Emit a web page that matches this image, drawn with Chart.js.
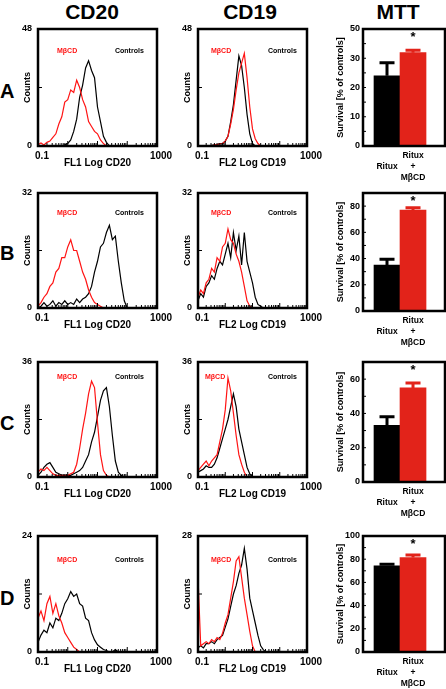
<!DOCTYPE html>
<html>
<head>
<meta charset="utf-8">
<script src="https://cdn.jsdelivr.net/npm/chart.js@4.4.0/dist/chart.umd.min.js"></script>
<style>
  body { margin: 0; background: #fff; width: 446px; height: 689px; position: relative; overflow: hidden;
         font-family: "Liberation Sans", Arial, Helvetica, sans-serif; }
  .lbl { position: absolute; font-weight: bold; color: #000; white-space: nowrap; text-align: center; }
</style>
</head>
<body>
<div class="lbl" style="left:52px;top:0;width:80px;height:24px;line-height:24px;font-size:21px">CD20</div>
<div class="lbl" style="left:210px;top:0;width:80px;height:24px;line-height:24px;font-size:21px">CD19</div>
<div class="lbl" style="left:358px;top:0;width:80px;height:24px;line-height:24px;font-size:21px">MTT</div>
<script>
// flow cytometry channels: 0..40 spans the log axis 0.1 .. 1000 (10 per decade)
const channels = [0,1,2,3,4,5,6,7,8,9,10,11,12,13,14,15,16,17,18,19,20,
                  21,22,23,24,25,26,27,28,29,30,31,32,33,34,35,36,37,38,39,40];
const xTickLabels = ['0.1', '1000'];
const rowNames = ['A', 'B', 'C', 'D'];
const seriesNames = ['MβCD', 'Controls'];
const axisTitles = ['FL1 Log CD20', 'FL2 Log CD19'];

const cd20Max = [48, 32, 36, 24];
const cd19Max = [48, 32, 36, 28];

// CD20 histograms (counts per channel)
const cd20A_mbcd     = [0.5,1.2,0.4,1.5,2,3.5,5,9,12,18,19,23,22,27,24,19,16,10,8,6,5,2.5,1,0];
const cd20A_controls = [0,0,0,0,0,0,0,0,0,0.5,1,2.5,6,11,20,25,32,35,31,28,16,10,4,1.5,0];
const cd20B_mbcd     = [0.5,1.5,3,4,6,7,10,11,14,14,17,19,16,16,13,10,8,5,3,1.5,1,0.5,0];
const cd20B_controls = [0,0.5,1.5,0.5,1,2,0.5,1.5,1,2,1,1.5,1,2.5,1.5,2.5,3,4,6,10,13,17,18,21,23,19,20,13,7,2,0];
const cd20C_mbcd     = [1.5,2.5,2,3,2,1,0.5,0.5,0.5,0.5,0.5,1,1.5,4,9,15,20,26,30,28,17,7,2,0.5,0];
const cd20C_controls = [0.5,1.5,3,4,4.5,3,1.5,1,0.5,0.5,0.5,0.5,1,1.5,2,3,5,7,11,14,19,24,27,28,22,13,5,1.5,0.5,0];
const cd20D_mbcd     = [7,8.5,6.5,10,11.5,8,10,7.5,6,4,3,2,1,0.5,0];
const cd20D_controls = [2,3.5,4.5,4,6,5,7,6.5,8,10,11,12.5,11.5,12,10,9.5,7,6.5,4,2.5,1.5,1,0.5,0.3,0,0,0.5,0];

// CD19 histograms
const cd19A_mbcd     = [0,0,0,0,0,0,0.5,0.5,1,1,2,4,9,15,23,30,34,38,28,16,7,3,1,0];
const cd19A_controls = [0,0,0,0,0,0.3,0.5,0.5,1,1,2,4,10,17,27,37,33,24,13,5,1,0];
const cd19B_mbcd     = [3,5,4,7,8,11,10,14,13,17,18,22,19,18,15,13,10,6,2,0.5,0];
const cd19B_controls = [2,4,3,6,7,9,8,11,13,12,15,18,14,21,16,20,12,21,13,10,7,3,1,0.5,0];
const cd19C_mbcd     = [2,3,4,5,3.5,5,6,7,11,15,21,31,27,20,13,7,4,1.5,0];
const cd19C_controls = [1.5,2,2.5,3.5,3,3,4,6,9,12,15,18,22,26,22,15,11,7,3,1,0];
const cd19D_mbcd     = [18,1.5,2,2.5,2,3,2.5,3.5,3,4.5,7,9,13,17,22,23,18,13,9,5,1.5,0];
const cd19D_controls = [1,1.5,1,2,2,2.5,2,3,3.5,4,6,8,11,14,16,19,21,25,20,13,10,7,4,1.5,0.5,0];

const cd20Mbcd = [cd20A_mbcd, cd20B_mbcd, cd20C_mbcd, cd20D_mbcd];
const cd20Controls = [cd20A_controls, cd20B_controls, cd20C_controls, cd20D_controls];
const cd19Mbcd = [cd19A_mbcd, cd19B_mbcd, cd19C_mbcd, cd19D_mbcd];
const cd19Controls = [cd19A_controls, cd19B_controls, cd19C_controls, cd19D_controls];

// MTT survival (% of controls): Ritux, Ritux + MβCD
const mttGroups = ['Ritux', ['Ritux', '+', 'MβCD']];
const mttMeanA = [24.0, 31.9], mttErrA = [4.5, 0.8];
const mttMeanB = [35.1, 76.9], mttErrB = [4.4, 1.8];
const mttMeanC = [33.1, 54.9], mttErrC = [4.9, 2.9];
const mttMeanD = [74.3, 81.4], mttErrD = [1.4, 2.3];
const mttMeans = [mttMeanA, mttMeanB, mttMeanC, mttMeanD];
const mttErrs = [mttErrA, mttErrB, mttErrC, mttErrD];
const mttAxisMax = [40, 90, 70, 100];
const mttTickValues = [[0,10,20,30,40], [0,20,40,60,80], [0,20,40,60], [0,20,40,60,80,100]];
const mttTickLabels = [['0','10','20','30','50'], ['0','20','40','60','80'], ['0','20','40','60'], ['0','20','40','60','80','100']];
const mttSignif = '*';

// ---- layout ----
const FONT = "'Liberation Sans', Arial, Helvetica, sans-serif";
const RED = '#ff1414';
const BAR_COLORS = ['#000000', '#e2231a'];
const rowTop = [29, 193, 362, 536];
const histBottom = [146, 308, 477, 652];
const mttBottom = [146, 311, 482, 652];
const rowLetterY = [91, 253, 423, 598];
const cd20Box = {left: 38, right: 157};
const cd19Box = {left: 198, right: 307};
const mttBox = {left: 363, right: 445};
const legendDy = [22, 20, 15, 24];
const cd20LegendX = [19, 77];
const cd19LegendX = [[13, 70], [13, 70], [7, 70], [13, 70]];

Chart.defaults.font.family = FONT;
Chart.defaults.font.weight = 'bold';
Chart.defaults.color = '#000';

function addCanvas(left, top, w, h) {
  const c = document.createElement('canvas');
  c.width = w; c.height = h;
  c.style.cssText = `position:absolute;left:${left}px;top:${top}px;width:${w}px;height:${h}px`;
  document.body.appendChild(c);
  return c;
}

function histDeco(cfg) {
  return {
    id: 'histDeco',
    afterDatasetsDraw(chart) {
      const {ctx, chartArea: a, scales: {x, y}} = chart;
      ctx.save();
      ctx.strokeStyle = '#000';
      ctx.lineWidth = 1;
      ctx.beginPath();
      for (let d = 0; d < 4; d++) {
        for (let k = 1; k <= 9; k++) {
          const px = x.getPixelForValue(10 * (d + Math.log10(k)));
          ctx.moveTo(px, a.bottom);
          ctx.lineTo(px, a.bottom - (k === 1 ? 5 : 3));
        }
      }
      const my = y.getPixelForValue(cfg.max / 2);
      ctx.moveTo(a.left, my);
      ctx.lineTo(a.left + 4, my);
      ctx.stroke();
      ctx.lineWidth = 2.5;
      ctx.strokeRect(a.left, a.top, a.right - a.left, a.bottom - a.top);
      ctx.font = `bold 7px ${FONT}`;
      ctx.textBaseline = 'middle';
      ctx.fillStyle = RED;
      ctx.fillText(seriesNames[0], a.left + cfg.lx[0], a.top + cfg.dy);
      ctx.fillStyle = '#000';
      ctx.fillText(seriesNames[1], a.left + cfg.lx[1], a.top + cfg.dy);
      ctx.restore();
    }
  };
}

function histChart(box, top, bottom, max, mbcd, controls, xTitle, lx, dy) {
  const padL = 22, padT = 8, padR = 18, axisH = 23;
  const w = box.right - box.left + padL + padR;
  const h = bottom - top + padT + axisH;
  const canvas = addCanvas(box.left - padL, top - padT, w, h);
  new Chart(canvas, {
    type: 'line',
    data: {
      datasets: [
        {label: seriesNames[0], data: mbcd.map((v, i) => ({x: channels[i], y: v})),
         borderColor: RED, borderWidth: 1.2, pointRadius: 0, tension: 0, fill: false},
        {label: seriesNames[1], data: controls.map((v, i) => ({x: channels[i], y: v})),
         borderColor: '#000', borderWidth: 1.2, pointRadius: 0, tension: 0, fill: false}
      ]
    },
    options: {
      responsive: false,
      animation: false,
      layout: {padding: {left: padL - 16, top: padT, right: padR, bottom: 0}, autoPadding: false},
      plugins: {legend: {display: false}, tooltip: {enabled: false}},
      scales: {
        x: {
          type: 'linear', min: channels[0], max: channels[channels.length - 1],
          grid: {display: false, drawTicks: false}, border: {display: false},
          afterBuildTicks: s => { s.ticks = [{value: channels[0]}, {value: channels[channels.length - 1]}]; },
          afterFit: s => { s.height = axisH; s.paddingLeft = 0; s.paddingRight = 0; },
          ticks: {padding: 4, labelOffset: 4, maxRotation: 0, autoSkip: false, font: {size: 10},
                  callback: v => v === channels[0] ? xTickLabels[0] : xTickLabels[1]},
          title: {display: true, text: xTitle, font: {size: 10}, padding: 0}
        },
        y: {
          min: 0, max: max,
          grid: {display: false, drawTicks: false}, border: {display: false},
          afterBuildTicks: s => { s.ticks = [{value: 0}, {value: max}]; },
          afterFit: s => { s.width = 16; s.paddingTop = 0; s.paddingBottom = 0; },
          ticks: {padding: 6, font: {size: 9}, callback: v => String(v)},
          title: {display: true, text: 'Counts', font: {size: 9}, padding: 0}
        }
      }
    },
    plugins: [histDeco({max, lx, dy})]
  });
}

function mttDeco(cfg) {
  return {
    id: 'mttDeco',
    afterDatasetsDraw(chart) {
      const {ctx, chartArea: a, scales: {x, y}} = chart;
      ctx.save();
      cfg.means.forEach((m, i) => {
        const px = x.getPixelForValue(i + 1);
        const y0 = y.getPixelForValue(m);
        const y1 = y.getPixelForValue(m + cfg.errs[i]);
        ctx.strokeStyle = BAR_COLORS[i];
        ctx.lineWidth = 3;
        ctx.beginPath();
        ctx.moveTo(px, y0); ctx.lineTo(px, y1);
        ctx.moveTo(px - 7.5, y1); ctx.lineTo(px + 7.5, y1);
        ctx.stroke();
      });
      ctx.strokeStyle = '#000';
      ctx.lineWidth = 1;
      ctx.beginPath();
      const tv = cfg.ticks;
      const step = tv[1] - tv[0];
      for (let v = 0; v <= cfg.max; v += step / 2) {
        const py = y.getPixelForValue(v);
        ctx.moveTo(a.left, py); ctx.lineTo(a.left + 3, py);
      }
      ctx.stroke();
      ctx.lineWidth = 2.5;
      ctx.strokeRect(a.left, a.top, a.right - a.left, a.bottom - a.top);
      ctx.fillStyle = '#000';
      ctx.font = `bold 13px ${FONT}`;
      ctx.textAlign = 'center';
      ctx.textBaseline = 'alphabetic';
      ctx.fillText(mttSignif, x.getPixelForValue(2), a.top + 12);
      ctx.restore();
    }
  };
}

function mttChart(row) {
  const padL = 30, padT = 8, padR = 1, axisH = 38;
  const top = rowTop[row], bottom = mttBottom[row];
  const w = mttBox.right - mttBox.left + padL + padR;
  const h = bottom - top + padT + axisH;
  const canvas = addCanvas(mttBox.left - padL, top - padT, w, h);
  const means = mttMeans[row], errs = mttErrs[row];
  const ticks = mttTickValues[row], labels = mttTickLabels[row];
  new Chart(canvas, {
    type: 'bar',
    data: {
      datasets: [{
        data: means.map((v, i) => ({x: i + 1, y: v})),
        backgroundColor: BAR_COLORS, borderWidth: 0,
        barPercentage: 1, categoryPercentage: 1
      }]
    },
    options: {
      responsive: false,
      animation: false,
      layout: {padding: {left: padL - 28, top: padT, right: padR, bottom: 0}, autoPadding: false},
      plugins: {legend: {display: false}, tooltip: {enabled: false}},
      scales: {
        x: {
          type: 'linear', min: 0.077, max: 3.23, offset: false,
          grid: {display: false, drawTicks: false}, border: {display: false},
          afterBuildTicks: s => { s.ticks = [{value: 1}, {value: 2}]; },
          afterFit: s => { s.height = axisH; s.paddingLeft = 0; s.paddingRight = 0; },
          ticks: {padding: 10, maxRotation: 0, autoSkip: false, crossAlign: 'center',
                  font: {size: 8.5, lineHeight: 1.3}, callback: v => mttGroups[Math.round(v) - 1]}
        },
        y: {
          min: 0, max: mttAxisMax[row],
          grid: {display: false, drawTicks: false}, border: {display: false},
          afterBuildTicks: s => { s.ticks = ticks.map(v => ({value: v})); },
          afterFit: s => { s.width = 28; s.paddingTop = 0; s.paddingBottom = 0; },
          ticks: {padding: 3, font: {size: 9}, callback: (v, i) => labels[i]},
          title: {display: true, text: 'Survival [% of controls]', font: {size: 9}, padding: 0}
        }
      }
    },
    plugins: [mttDeco({means, errs, ticks, max: mttAxisMax[row]})]
  });
}

rowNames.forEach((name, i) => {
  const d = document.createElement('div');
  d.className = 'lbl';
  d.textContent = name;
  d.style.cssText = `left:0;top:${rowLetterY[i] - 12}px;width:14px;height:24px;line-height:24px;font-size:20px`;
  document.body.appendChild(d);
  histChart(cd20Box, rowTop[i], histBottom[i], cd20Max[i], cd20Mbcd[i], cd20Controls[i], axisTitles[0], cd20LegendX, legendDy[i]);
  histChart(cd19Box, rowTop[i], histBottom[i], cd19Max[i], cd19Mbcd[i], cd19Controls[i], axisTitles[1], cd19LegendX[i], legendDy[i]);
  mttChart(i);
});
</script>
</body>
</html>
